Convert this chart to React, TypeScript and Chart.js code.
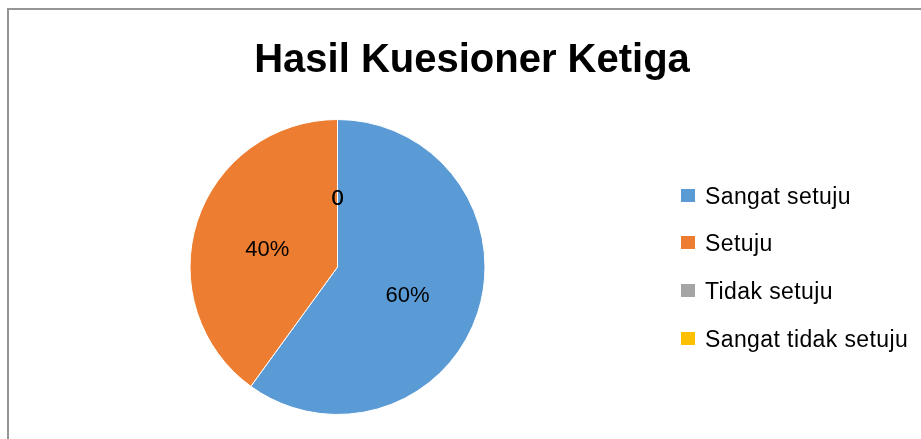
import React, { useEffect, useRef } from "react";
import { Chart, registerables } from "chart.js";

Chart.register(...registerables);

const TITLE = "Hasil Kuesioner Ketiga";
const categories = ["Sangat setuju", "Setuju", "Tidak setuju", "Sangat tidak setuju"];
const values = [60, 40, 0, 0];
const colors = ["#5B9BD5", "#ED7D31", "#A5A5A5", "#FFC000"];

const FONT = "'Liberation Sans', Arial, sans-serif";

const overlayPlugin = {
  id: "overlay",
  afterDatasetsDraw(chart: any) {
    const ctx = chart.ctx as CanvasRenderingContext2D;
    ctx.save();
    // data labels
    const meta = chart.getDatasetMeta(0);
    ctx.fillStyle = "#000";
    ctx.font = `22px ${FONT}`;
    ctx.textAlign = "center";
    ctx.textBaseline = "middle";
    meta.data.forEach((arc: any, i: number) => {
      const p = arc.getProps(["x", "y", "startAngle", "endAngle", "outerRadius"], true);
      const mid = (p.startAngle + p.endAngle) / 2;
      const d = p.outerRadius * 0.5;
      const v = values[i];
      const txt = v === 0 ? "0" : `${v}%`;
      ctx.fillText(txt, p.x + Math.cos(mid) * d, p.y + Math.sin(mid) * d + 6);
    });
    // title
    ctx.font = `bold 40px ${FONT}`;
    ctx.fillText(TITLE, 472, 61);
    // legend
    ctx.font = `23px ${FONT}`;
    ctx.textAlign = "left";
    (ctx as any).letterSpacing = "0.4px";
    const ys = [196, 243, 291, 339];
    categories.forEach((c, i) => {
      ctx.fillStyle = colors[i];
      ctx.fillRect(681, ys[i] - 7, 14, 13);
      ctx.fillStyle = "#000";
      ctx.fillText(c, 705, ys[i] + 2);
    });
    ctx.restore();
  },
};

export default function App() {
  const ref = useRef<HTMLCanvasElement>(null);
  useEffect(() => {
    if (!ref.current) return;
    const chart = new Chart(ref.current, {
      type: "pie",
      data: {
        labels: categories,
        datasets: [
          {
            data: values,
            backgroundColor: colors,
            borderColor: "#ffffff",
            borderWidth: 1,
            hoverOffset: 0,
          },
        ],
      },
      options: {
        responsive: false,
        animation: false,
        devicePixelRatio: 1,
        radius: 147.5,
        layout: { padding: { left: 0, right: 246, top: 95, bottom: 0 } },
        plugins: {
          legend: { display: false },
          title: { display: false },
          tooltip: { enabled: false },
        },
      } as any,
      plugins: [overlayPlugin],
    });
    return () => chart.destroy();
  }, []);
  return (
    <div
      style={{
        position: "fixed",
        left: 0,
        top: 0,
        width: 921,
        height: 439,
        background: "#fff",
        overflow: "hidden",
      }}
    >
      <canvas
        ref={ref}
        width={921}
        height={439}
        style={{ position: "absolute", left: 0, top: 0, width: 921, height: 439 }}
      />
      <div
        style={{
          position: "absolute",
          left: 7,
          top: 8,
          width: 960,
          height: 480,
          borderTop: "2px solid #959595",
          borderLeft: "2px solid #959595",
          boxSizing: "border-box",
          pointerEvents: "none",
        }}
      />
    </div>
  );
}
